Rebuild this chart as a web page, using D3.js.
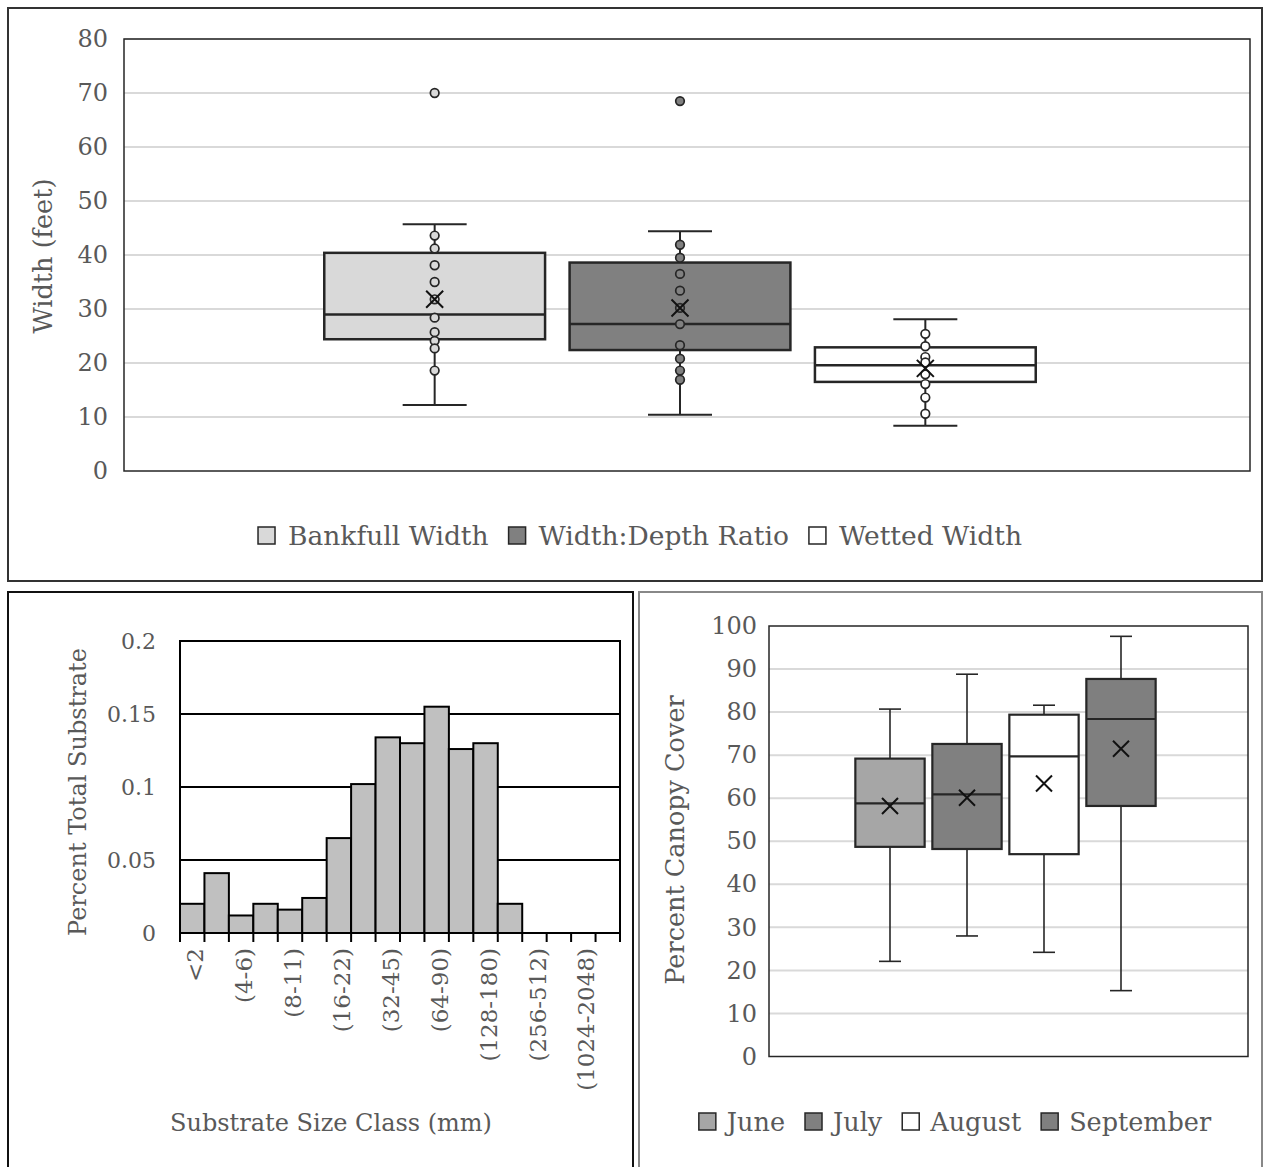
<!DOCTYPE html>
<html>
<head>
<meta charset="utf-8">
<script src="https://cdn.jsdelivr.net/npm/d3@7"></script>
<style>
  body { margin: 0; background: #fff; }
  text { font-family: "DejaVu Serif", serif; fill: #595959; }
</style>
</head>
<body>
<svg id="chart" width="1265" height="1167"></svg>
<script>
// --- top chart: stream widths (box summary per series)
const widthSeries = ["Bankfull Width", "Width:Depth Ratio", "Wetted Width"];
const widthLow = [12.2, 10.4, 8.4];
const widthQ1 = [24.4, 22.4, 16.5];
const widthMedian = [29.0, 27.2, 19.6];
const widthQ3 = [40.4, 38.6, 22.9];
const widthHigh = [45.7, 44.4, 28.1];
const widthMean = [31.8, 30.2, 19.0];
const widthPoints = [
  [43.6, 41.2, 38.1, 35.0, 31.8, 28.4, 25.7, 24.1, 22.7, 18.6],
  [41.9, 39.5, 36.5, 33.4, 30.2, 27.2, 23.3, 20.8, 18.6, 16.9],
  [25.4, 23.1, 21.1, 20.1, 17.9, 16.1, 13.6, 10.6]
];
const widthOutliers = [[70], [68.5], []];
const widthTicks = [0, 10, 20, 30, 40, 50, 60, 70, 80];

// --- bottom left: substrate histogram
const sizeClasses = ["<2", "(2-4)", "(4-6)", "(6-8)", "(8-11)", "(11-16)", "(16-22)", "(22-32)",
  "(32-45)", "(45-64)", "(64-90)", "(90-128)", "(128-180)", "(180-256)", "(256-512)",
  "(512-1024)", "(1024-2048)", "(>2048)"];
const substrateShare = [0.02, 0.041, 0.012, 0.02, 0.016, 0.024, 0.065, 0.102, 0.134, 0.13,
  0.155, 0.126, 0.13, 0.02, 0, 0, 0, 0];
const substrateTicks = [0, 0.05, 0.1, 0.15, 0.2];

// --- bottom right: canopy cover by month
const months = ["June", "July", "August", "September"];
const canopyLow = [22.1, 28.0, 24.2, 15.3];
const canopyQ1 = [48.7, 48.2, 47.0, 58.2];
const canopyMedian = [58.8, 60.9, 69.7, 78.4];
const canopyQ3 = [69.2, 72.6, 79.4, 87.7];
const canopyHigh = [80.7, 88.8, 81.6, 97.6];
const canopyMean = [58.2, 60.1, 63.4, 71.5];
const canopyTicks = [0, 10, 20, 30, 40, 50, 60, 70, 80, 90, 100];

const widthFills = ["#d9d9d9", "#808080", "#ffffff"];
const monthFills = ["#a6a6a6", "#808080", "#ffffff", "#7f7f7f"];
const ink = "#262626";

const svg = d3.select("#chart");

function frame(x0, y0, x1, y1, color) {
  svg.append("rect")
    .attr("x", x0).attr("y", y0)
    .attr("width", x1 - x0).attr("height", y1 - y0)
    .attr("fill", "none").attr("stroke", color).attr("stroke-width", 2);
}
frame(8, 8, 1262, 581, "#333");
frame(8, 592, 633, 1175, "#111");
frame(639, 592, 1262, 1175, "#888");

function grid(y, ticks, x0, x1, color, w) {
  svg.append("g").selectAll("line")
    .data(ticks).join("line")
    .attr("x1", x0).attr("x2", x1)
    .attr("y1", d => y(d)).attr("y2", d => y(d))
    .attr("stroke", color).attr("stroke-width", w);
}

function yLabels(y, ticks, x0, pad, size) {
  const g = svg.append("g")
    .attr("transform", `translate(${x0},0)`)
    .call(d3.axisLeft(y).tickValues(ticks).tickSize(0).tickPadding(pad).tickFormat(d => String(d)));
  g.select(".domain").remove();
  g.selectAll("text").attr("font-size", size).attr("fill", "#595959")
    .style("font-family", '"DejaVu Serif", serif');
}

function yTitle(txt, x, y, size) {
  svg.append("text")
    .attr("transform", `translate(${x},${y}) rotate(-90)`)
    .attr("text-anchor", "middle")
    .attr("font-size", size)
    .text(txt);
}

function cross(s) {
  return `M${-s},${-s}L${s},${s}M${-s},${s}L${s},${-s}`;
}

function drawBoxes(x, y, rows, opt) {
  const cx = d => x(d.key) + x.bandwidth() / 2;
  const g = svg.append("g").selectAll("g").data(rows).join("g");
  g.append("line")
    .attr("x1", cx).attr("x2", cx)
    .attr("y1", d => y(d.low)).attr("y2", d => y(d.high))
    .attr("stroke", ink).attr("stroke-width", opt.whisker);
  ["low", "high"].forEach(k => {
    g.append("line")
      .attr("x1", d => cx(d) - opt.cap / 2).attr("x2", d => cx(d) + opt.cap / 2)
      .attr("y1", d => y(d[k])).attr("y2", d => y(d[k]))
      .attr("stroke", ink).attr("stroke-width", opt.whisker);
  });
  g.append("rect")
    .attr("x", d => x(d.key)).attr("width", x.bandwidth())
    .attr("y", d => y(d.q3)).attr("height", d => y(d.q1) - y(d.q3))
    .attr("fill", d => d.fill).attr("stroke", ink).attr("stroke-width", opt.box);
  g.append("line")
    .attr("x1", d => x(d.key)).attr("x2", d => x(d.key) + x.bandwidth())
    .attr("y1", d => y(d.med)).attr("y2", d => y(d.med))
    .attr("stroke", ink).attr("stroke-width", opt.box);
  g.each(function (d) {
    d3.select(this).selectAll("circle")
      .data(d.points.concat(d.outliers)).join("circle")
      .attr("cx", cx(d)).attr("cy", v => y(v)).attr("r", 4.3)
      .attr("fill", d.fill).attr("stroke", ink).attr("stroke-width", 1.7);
  });
  g.append("path")
    .attr("transform", d => `translate(${cx(d)},${y(d.mean)})`)
    .attr("d", cross(opt.mark))
    .attr("fill", "none").attr("stroke", "#111").attr("stroke-width", 2);
}

function legend(cx, base, names, fills, size, gapText) {
  const g = svg.append("g");
  let pos = 0;
  names.forEach((n, i) => {
    const item = g.append("g").attr("transform", `translate(${pos},0)`);
    item.append("rect")
      .attr("x", 0).attr("y", -18).attr("width", 17).attr("height", 17)
      .attr("fill", fills[i]).attr("stroke", ink).attr("stroke-width", 1.5);
    const t = item.append("text").attr("x", gapText).attr("font-size", size).text(n);
    pos += gapText + t.node().getComputedTextLength() + 20;
  });
  const total = pos - 20;
  g.attr("transform", `translate(${cx - total / 2},${base})`);
}

// ===== top chart
const yW = d3.scaleLinear().domain([0, 80]).range([471, 39]);
const xW = d3.scaleBand().domain(widthSeries).range([312, 1048]).paddingInner(0.1).paddingOuter(0.05);
grid(yW, widthTicks.slice(1), 124, 1250, "#d9d9d9", 2);
svg.append("rect").attr("x", 124).attr("y", 39).attr("width", 1126).attr("height", 432)
  .attr("fill", "none").attr("stroke", ink).attr("stroke-width", 1.5);
yLabels(yW, widthTicks, 124, 16, 24);
yTitle("Width (feet)", 52, 256, 25.5);
drawBoxes(xW, yW, widthSeries.map((k, i) => ({
  key: k, low: widthLow[i], q1: widthQ1[i], med: widthMedian[i], q3: widthQ3[i],
  high: widthHigh[i], mean: widthMean[i], points: widthPoints[i], outliers: widthOutliers[i],
  fill: widthFills[i]
})), { whisker: 2, cap: 64, box: 2.5, mark: 8.5 });
legend(640, 545, widthSeries, widthFills, 26.5, 30);

// ===== histogram
const xS = d3.scaleBand().domain(sizeClasses).range([180, 620]);
const yS = d3.scaleLinear().domain([0, 0.2]).range([933, 641]);
grid(yS, [0.05, 0.1, 0.15], 180, 620, "#000", 2);
svg.append("g").selectAll("rect")
  .data(substrateShare).join("rect")
  .attr("x", (d, i) => xS(sizeClasses[i])).attr("width", xS.bandwidth())
  .attr("y", d => yS(d)).attr("height", d => yS(0) - yS(d))
  .attr("fill", "#c0c0c0").attr("stroke", "#000").attr("stroke-width", 2);
svg.append("rect").attr("x", 180).attr("y", 641).attr("width", 440).attr("height", 292)
  .attr("fill", "none").attr("stroke", "#000").attr("stroke-width", 2);
svg.append("g").selectAll("line")
  .data(sizeClasses.map(c => xS(c)).concat([620])).join("line")
  .attr("x1", d => d).attr("x2", d => d).attr("y1", 933).attr("y2", 942)
  .attr("stroke", "#000").attr("stroke-width", 2);
svg.append("g").selectAll("text")
  .data(sizeClasses.filter((c, i) => i % 2 === 0)).join("text")
  .attr("transform", d => `translate(${xS(d) + xS.bandwidth() / 2 + 3},948) rotate(-90)`)
  .attr("dy", "0.35em")
  .attr("text-anchor", "end")
  .attr("font-size", 23)
  .text(d => d);
yLabels(yS, substrateTicks, 180, 24, 22);
yTitle("Percent Total Substrate", 86, 792, 24);
svg.append("text").attr("x", 331).attr("y", 1131).attr("text-anchor", "middle")
  .attr("font-size", 24).text("Substrate Size Class (mm)");

// ===== canopy chart
const yC = d3.scaleLinear().domain([0, 100]).range([1056.5, 626]);
const xC = d3.scaleBand().domain(months).range([851.5, 1159.5]).paddingInner(0.1).paddingOuter(0.05);
grid(yC, canopyTicks.slice(1, -1), 769, 1248, "#d9d9d9", 2);
svg.append("rect").attr("x", 769).attr("y", 626).attr("width", 479).attr("height", 430.5)
  .attr("fill", "none").attr("stroke", ink).attr("stroke-width", 1.5);
yLabels(yC, canopyTicks, 769, 12, 24);
yTitle("Percent Canopy Cover", 684, 840, 25.5);
drawBoxes(xC, yC, months.map((k, i) => ({
  key: k, low: canopyLow[i], q1: canopyQ1[i], med: canopyMedian[i], q3: canopyQ3[i],
  high: canopyHigh[i], mean: canopyMean[i], points: [], outliers: [], fill: monthFills[i]
})), { whisker: 1.6, cap: 22, box: 2.2, mark: 8 });
legend(955, 1131, months, monthFills, 25.5, 28);
</script>
</body>
</html>
